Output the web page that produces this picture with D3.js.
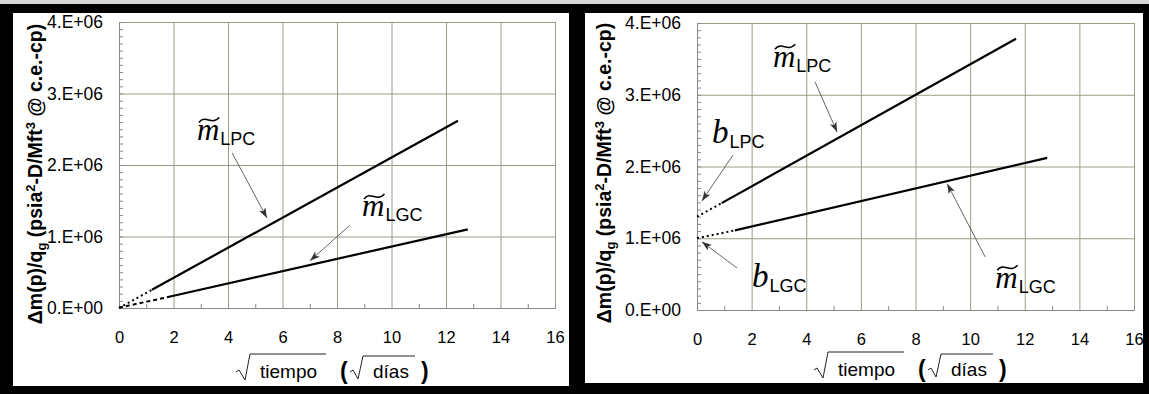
<!DOCTYPE html>
<html>
<head>
<meta charset="utf-8">
<script src="https://d3js.org/d3.v7.min.js"></script>
<style>
body { margin: 0; background: #000; }
svg { display: block; }
</style>
</head>
<body>
<svg width="1149" height="394"></svg>
<script>
var xTicks = [0, 2, 4, 6, 8, 10, 12, 14, 16];
var xMinor = [1, 3, 5, 7, 9, 11, 13, 15];
var yTicks = [0, 1e6, 2e6, 3e6, 4e6];
var yTickLabels = ['0.E+00', '1.E+06', '2.E+06', '3.E+06', '4.E+06'];

// left chart: fitted lines (solid) and their extrapolation to t = 0
var leftLPC = [[1.21, 0.255e6], [12.44, 2.62e6]];
var leftLPCext = [[0, 0], [1.21, 0.255e6]];
var leftLGC = [[1.76, 0.15e6], [12.8, 1.10e6]];
var leftLGCext = [[0, 0.005e6], [1.76, 0.15e6]];

// right chart
var rightLPC = [[0.9, 1.49e6], [11.68, 3.78e6]];
var rightLPCext = [[0, 1.3e6], [0.9, 1.49e6]];
var rightLGC = [[1.39, 1.11e6], [12.82, 2.12e6]];
var rightLGCext = [[0, 1.0e6], [1.39, 1.11e6]];

// annotations: symbol, subscript, label anchor, arrow from -> to (data units)
var leftNotes = [
  {sym: 'm', tilde: true, sub: 'LPC', at: [2.86, 2.35e6], from: [4.15, 2.17e6], to: [5.43, 1.26e6]},
  {sym: 'm', tilde: true, sub: 'LGC', at: [8.92, 1.28e6], from: [8.48, 1.16e6], to: [7.01, 0.66e6]}
];
var rightNotes = [
  {sym: 'm', tilde: true, sub: 'LPC', at: [2.78, 3.39e6], from: [4.32, 3.18e6], to: [5.13, 2.48e6]},
  {sym: 'b', tilde: false, sub: 'LPC', at: [0.55, 2.33e6], from: [1.32, 2.16e6], to: [0.18, 1.52e6]},
  {sym: 'b', tilde: false, sub: 'LGC', at: [2.01, 0.32e6], from: [1.47, 0.585e6], to: [0.18, 0.95e6]},
  {sym: 'm', tilde: true, sub: 'LGC', at: [10.92, 0.31e6], from: [10.55, 0.74e6], to: [9.16, 1.76e6]}
];

var svg = d3.select('svg');
var sans = '"Liberation Sans", Arial, sans-serif';
var serif = '"Liberation Serif", "Times New Roman", serif';

// background frame
svg.append('rect').attr('width', 1149).attr('height', 394).attr('fill', '#000');
svg.append('rect').attr('width', 1149).attr('height', 4).attr('fill', '#d8d8d8');
svg.append('rect').attr('x', 13).attr('y', 13).attr('width', 556).attr('height', 373).attr('fill', '#fff');
svg.append('rect').attr('x', 585).attr('y', 13).attr('width', 558).attr('height', 370).attr('fill', '#fff');

var defs = svg.append('defs');
defs.append('marker')
  .attr('id', 'arr')
  .attr('markerUnits', 'userSpaceOnUse')
  .attr('markerWidth', 12).attr('markerHeight', 8)
  .attr('refX', 10).attr('refY', 3.5)
  .attr('orient', 'auto')
  .append('path')
  .attr('d', 'M0,0L10,3.5L0,7L2.5,3.5Z')
  .attr('fill', '#333');

function panel(cfg) {
  var g = svg.append('g').attr('transform', 'translate(' + cfg.ox + ',' + cfg.oy + ')');
  var x = d3.scaleLinear().domain([0, 16]).range([0, cfg.w]);
  var y = d3.scaleLinear().domain([0, 4e6]).range([cfg.h, 0]);

  // grid
  var gx = g.append('g').attr('transform', 'translate(0,' + cfg.h + ')')
    .call(d3.axisBottom(x).tickValues(xTicks).tickSize(-cfg.h).tickFormat(''));
  var gy = g.append('g')
    .call(d3.axisLeft(y).tickValues(yTicks).tickSize(-cfg.w).tickFormat(''));
  [gx, gy].forEach(function (a) {
    a.select('.domain').remove();
    a.selectAll('line').attr('stroke', '#9c9c84').attr('stroke-width', 1);
  });

  // minor ticks
  var mx = g.append('g').attr('transform', 'translate(0,' + cfg.h + ')')
    .call(d3.axisBottom(x).tickValues(xMinor).tickSize(-4).tickFormat(''));
  var my = g.append('g')
    .call(d3.axisLeft(y).tickValues(d3.range(0, 4e6, 1e5)).tickSize(-4).tickFormat(''));
  [mx, my].forEach(function (a) {
    a.select('.domain').attr('stroke', '#888');
    a.selectAll('line').attr('stroke', '#888');
  });

  // tick labels
  var lx = g.append('g').attr('transform', 'translate(0,' + cfg.h + ')')
    .call(d3.axisBottom(x).tickValues(xTicks).tickSize(0).tickPadding(23.5));
  var ly = g.append('g')
    .call(d3.axisLeft(y).tickValues(yTicks).tickSize(0).tickPadding(16)
      .tickFormat(function (d, i) { return yTickLabels[i]; }));
  lx.selectAll('text').style('font-size', '16.5px');
  ly.selectAll('text').style('font-size', '17.5px');
  [lx, ly].forEach(function (a) {
    a.select('.domain').remove();
    a.selectAll('text').attr('fill', '#000').style('font-family', sans);
  });

  // lines
  var line = d3.line().x(function (d) { return x(d[0]); }).y(function (d) { return y(d[1]); });
  cfg.series.forEach(function (s) {
    g.append('path')
      .attr('d', line(s.data))
      .attr('fill', 'none')
      .attr('stroke', '#000')
      .attr('stroke-width', s.dash ? 2 : 2.2)
      .attr('stroke-dasharray', s.dash || null);
  });

  // annotations
  cfg.notes.forEach(function (n) {
    g.append('line')
      .attr('x1', x(n.from[0])).attr('y1', y(n.from[1]))
      .attr('x2', x(n.to[0])).attr('y2', y(n.to[1]))
      .attr('stroke', '#555').attr('stroke-width', 0.9)
      .attr('marker-end', 'url(#arr)');
    var px = x(n.at[0]), py = y(n.at[1]);
    var fs = n.sym === 'b' ? 33 : 31;
    var t = g.append('text')
      .attr('x', px).attr('y', py)
      .style('font-family', serif).style('font-style', 'italic')
      .style('font-size', fs + 'px').attr('fill', '#000')
      .text(n.sym);
    var wd = t.node().getComputedTextLength();
    if (n.tilde) {
      var a = px + 2, w = wd - 2, c = py - 20;
      g.append('path')
        .attr('d', 'M' + a + ',' + (c + 2.5) + 'C' + (a + w * 0.33) + ',' + (c - 6) + ' ' +
          (a + w * 0.62) + ',' + (c + 6) + ' ' + (a + w) + ',' + (c - 2.5))
        .attr('fill', 'none').attr('stroke', '#000').attr('stroke-width', 1.6);
    }
    g.append('text')
      .attr('x', px + wd + 1).attr('y', py + 5)
      .style('font-family', sans).style('font-size', '18px').attr('fill', '#000')
      .text(n.sub);
  });

  // y axis title
  var yt = g.append('text')
    .attr('transform', 'translate(' + cfg.ylabX + ',' + cfg.ylabY + ') rotate(-90)')
    .attr('text-anchor', 'middle')
    .style('font-family', sans).style('font-weight', 'bold').style('font-size', '19.5px')
    .attr('fill', '#000');
  yt.append('tspan').text('\u0394m(p)/q');
  yt.append('tspan').style('font-size', '13px').attr('dy', 4).text('g');
  yt.append('tspan').attr('dy', -4).text(' (psia');
  yt.append('tspan').style('font-size', '13px').attr('dy', -7).text('2');
  yt.append('tspan').attr('dy', 7).text('-D/Mft');
  yt.append('tspan').style('font-size', '13px').attr('dy', -7).text('3');
  yt.append('tspan').attr('dy', 7).text(' @ c.e.-cp)');

  // x axis title
  var xb = g.append('g').attr('transform', 'translate(0,' + (cfg.h + cfg.xlabDy) + ')');
  xb.append('path').attr('d', 'M117,-6L120,-8L126,2L131,-24L207,-24')
    .attr('fill', 'none').attr('stroke', '#222').attr('stroke-width', 1);
  xb.append('text').attr('x', 141).attr('y', 0)
    .style('font-family', sans).style('font-size', '19px').attr('fill', '#000').text('tiempo');
  xb.append('text').attr('x', 221).attr('y', 1)
    .style('font-family', sans).style('font-weight', 'bold').style('font-size', '23px').attr('fill', '#000').text('(');
  xb.append('path').attr('d', 'M231,-6L234,-8L239,1L244,-22L296,-22')
    .attr('fill', 'none').attr('stroke', '#222').attr('stroke-width', 1);
  xb.append('text').attr('x', 254).attr('y', 0)
    .style('font-family', sans).style('font-size', '19px').attr('fill', '#000').text('d\u00edas');
  xb.append('text').attr('x', 302).attr('y', 1)
    .style('font-family', sans).style('font-weight', 'bold').style('font-size', '23px').attr('fill', '#000').text(')');
}

panel({
  ox: 119, oy: 22, w: 436, h: 286, ylabX: -77, ylabY: 152, xlabDy: 70,
  series: [
    {data: leftLPC}, {data: leftLPCext, dash: '2,3'},
    {data: leftLGC}, {data: leftLGCext, dash: '4,3'}
  ],
  notes: leftNotes
});

panel({
  ox: 697, oy: 23, w: 437, h: 287, ylabX: -86, ylabY: 150, xlabDy: 66,
  series: [
    {data: rightLPC}, {data: rightLPCext, dash: '2,3'},
    {data: rightLGC}, {data: rightLGCext, dash: '2,3'}
  ],
  notes: rightNotes
});
</script>
</body>
</html>
